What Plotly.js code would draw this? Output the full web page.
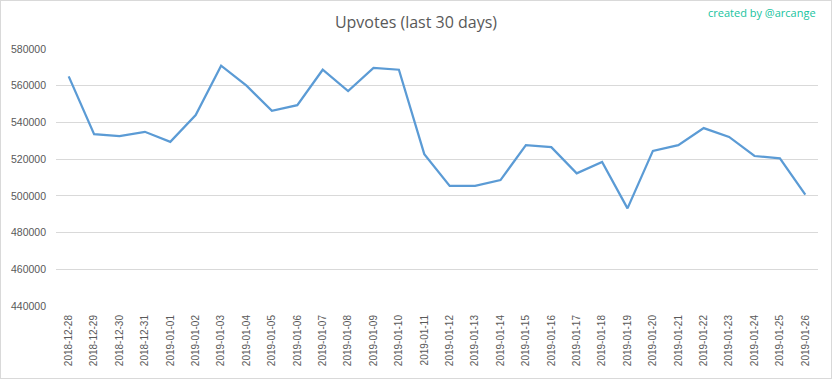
<!DOCTYPE html>
<html>
<head>
<meta charset="utf-8">
<script src="https://cdn.plot.ly/plotly-3.0.1.min.js"></script>
<style>
  html, body { margin: 0; padding: 0; background: #fff; }
  #wrap { position: relative; width: 832px; height: 379px; }
  #chart { width: 832px; height: 379px; }
  #border { position: absolute; left: 0; top: 0; width: 830px; height: 377px; border: 1px solid #d9d9d9; pointer-events: none; }
</style>
</head>
<body>
<div id="wrap"><div id="chart"></div><div id="border"></div></div>
<script>
const dates = [
  "2018-12-28","2018-12-29","2018-12-30","2018-12-31","2019-01-01","2019-01-02",
  "2019-01-03","2019-01-04","2019-01-05","2019-01-06","2019-01-07","2019-01-08",
  "2019-01-09","2019-01-10","2019-01-11","2019-01-12","2019-01-13","2019-01-14",
  "2019-01-15","2019-01-16","2019-01-17","2019-01-18","2019-01-19","2019-01-20",
  "2019-01-21","2019-01-22","2019-01-23","2019-01-24","2019-01-25","2019-01-26"
];
const upvotes = [
  565100, 533600, 532500, 534900, 529400, 544000,
  570900, 560000, 546300, 549400, 568700, 557100,
  569700, 568700, 522700, 505400, 505400, 508600,
  527600, 526500, 512300, 518500, 493200, 524500,
  527600, 536900, 532100, 521700, 520400, 500700
];
const yTicks = [440000, 460000, 480000, 500000, 520000, 540000, 560000, 580000];

const trace = {
  type: 'scatter', mode: 'lines',
  x: dates, y: upvotes,
  line: { color: '#5b9bd5', width: 2.25 },
  hoverinfo: 'x+y'
};

const layout = {
  width: 832, height: 379,
  margin: { l: 56, r: 14, t: 49, b: 73 },
  paper_bgcolor: '#ffffff', plot_bgcolor: '#ffffff',
  showlegend: false,
  font: { family: 'Open Sans, sans-serif', color: '#595959' },
  title: {
    text: 'Upvotes (last 30 days)',
    x: 0.5, xanchor: 'center', y: 0.94, yanchor: 'middle',
    font: { family: 'Open Sans, sans-serif', size: 16, color: '#595959' }
  },
  xaxis: {
    type: 'category',
    tickmode: 'array', tickvals: dates, ticktext: dates,
    tickangle: -90,
    tickfont: { family: 'Liberation Sans, Arial, sans-serif', size: 10, color: '#595959' },
    showgrid: false, zeroline: false, showline: false,
    ticks: '', ticklen: 0,
    ticklabelstandoff: 6,
    range: [-0.5, dates.length - 0.5]
  },
  yaxis: {
    range: [440000, 580000],
    tickmode: 'array', tickvals: yTicks, ticktext: yTicks.map(String),
    tickfont: { family: 'Liberation Sans, Arial, sans-serif', size: 10.5, color: '#595959' },
    showgrid: true, gridcolor: '#d9d9d9', gridwidth: 1,
    zeroline: false, showline: false, ticks: '',
    ticklabelstandoff: 9
  },
  annotations: [{
    text: 'created by @arcange',
    xref: 'paper', yref: 'paper', x: 1.0, y: 1.0,
    xanchor: 'right', yanchor: 'bottom', yshift: 27,
    showarrow: false,
    font: { family: 'Open Sans, sans-serif', size: 11, color: '#17c3a0' }
  }]
};

Plotly.newPlot('chart', [trace], layout, { displayModeBar: false, staticPlot: true });
</script>
</body>
</html>
